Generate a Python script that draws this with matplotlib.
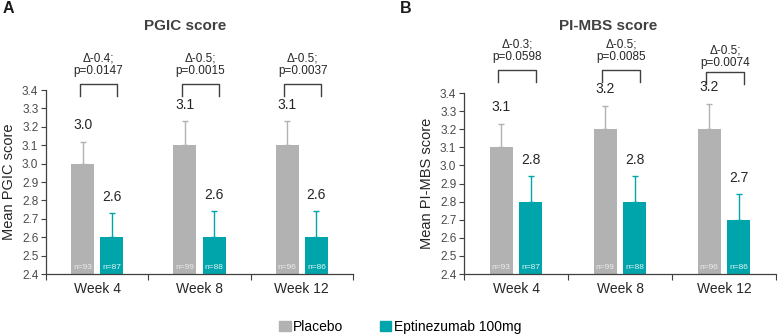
import matplotlib
matplotlib.use('Agg')
import matplotlib.pyplot as plt
from matplotlib.patches import Patch
import numpy as np

plt.rcParams['font.family'] = ['Liberation Sans', 'DejaVu Sans']

weeks = ['Week 4', 'Week 8', 'Week 12']

# panel A - PGIC
pgic_placebo = [3.0, 3.1, 3.1]
pgic_placebo_err = [0.12, 0.13, 0.13]
pgic_epti = [2.6, 2.6, 2.6]
pgic_epti_err = [0.13, 0.14, 0.14]
pgic_n_placebo = ['n=93', 'n=99', 'n=96']
pgic_n_epti = ['n=87', 'n=88', 'n=86']
pgic_stats = ['Δ-0.4;\np=0.0147', 'Δ-0.5;\np=0.0015', 'Δ-0.5;\np=0.0037']

# panel B - PI-MBS
mbs_placebo = [3.1, 3.2, 3.2]
mbs_placebo_err = [0.13, 0.13, 0.14]
mbs_epti = [2.8, 2.8, 2.7]
mbs_epti_err = [0.14, 0.14, 0.14]
mbs_n_placebo = ['n=93', 'n=99', 'n=96']
mbs_n_epti = ['n=87', 'n=88', 'n=86']
mbs_stats = ['Δ-0.3;\np=0.0598', 'Δ-0.5;\np=0.0085', 'Δ-0.5;\np=0.0074']

# bracket heights / text gaps (layout)
pgic_bracket = [3.433, 3.433, 3.433]
pgic_gap = [5, 5, 5]
mbs_bracket = [3.527, 3.527, 3.515]
mbs_gap = [5, 5, 2]

GRAY = '#b2b2b2'
TEAL = '#00a5ac'
DARK = '#404040'

fig = plt.figure(figsize=(7.77, 3.36), dpi=100)
axA = fig.add_axes([0.0592, 0.1845, 0.3951, 0.5476])
axB = fig.add_axes([0.5972, 0.1845, 0.4015, 0.5387])


def draw_panel(ax, ylabel, plac, plac_err, epti, epti_err, n_plac, n_epti, stats, brk, gap):
    x = np.arange(len(weeks))
    off = 0.142
    w = 0.225
    ax.bar(x - off, plac, w, color=GRAY, zorder=2)
    ax.bar(x + off, epti, w, color=TEAL, zorder=2)
    ax.errorbar(x - off, plac, yerr=[np.zeros(3), plac_err], fmt='none',
                ecolor=GRAY, elinewidth=1, capsize=2.5, capthick=1, zorder=1)
    ax.errorbar(x + off, epti, yerr=[np.zeros(3), epti_err], fmt='none',
                ecolor=TEAL, elinewidth=1, capsize=2.5, capthick=1, zorder=1)
    for i in range(len(weeks)):
        ax.annotate('{:.1f}'.format(plac[i]), xy=(x[i] - off, plac[i] + plac_err[i]),
                    xytext=(0, 7), textcoords='offset points', ha='center', va='bottom',
                    fontsize=10, color='#262626', annotation_clip=False)
        ax.annotate('{:.1f}'.format(epti[i]), xy=(x[i] + off, epti[i] + epti_err[i]),
                    xytext=(0, 7), textcoords='offset points', ha='center', va='bottom',
                    fontsize=10, color='#262626', annotation_clip=False)
        ax.annotate(n_plac[i], xy=(x[i] - off, 2.4), xytext=(0, 2), textcoords='offset points',
                    ha='center', va='bottom', fontsize=6, color='#ececec', zorder=3)
        ax.annotate(n_epti[i], xy=(x[i] + off, 2.4), xytext=(0, 2), textcoords='offset points',
                    ha='center', va='bottom', fontsize=6, color='#e0f4f4', zorder=3)
        # bracket
        bl, br = x[i] - 0.17, x[i] + 0.19
        ax.plot([bl, bl, br, br], [brk[i] - 0.065, brk[i], brk[i], brk[i] - 0.065],
                color=DARK, lw=1, clip_on=False)
        ax.annotate(stats[i], xy=((bl + br) / 2, brk[i]), xytext=(0, gap[i]),
                    textcoords='offset points', ha='center', va='bottom',
                    fontsize=8.5, color='#262626', linespacing=1.1, annotation_clip=False)
    ax.set_xlim(-0.5, 2.5)
    ax.set_ylim(2.4, 3.4)
    ticks = np.arange(2.4, 3.41, 0.1)
    ax.set_yticks(ticks)
    ax.set_yticklabels(['{:.1f}'.format(v) for v in ticks])
    ax.set_xticks([-0.5, 0.5, 1.5, 2.5])
    ax.set_xticklabels([])
    ax.set_xticks(x, minor=True)
    ax.set_xticklabels(weeks, minor=True, fontsize=10, color='#262626')
    ax.tick_params(axis='x', which='minor', length=0, pad=6)
    ax.tick_params(axis='x', which='major', length=4, color=DARK, width=0.8)
    ax.tick_params(axis='y', length=3.5, color=DARK, width=0.8, labelsize=8.5,
                   labelcolor='#4a4a4a', pad=2)
    for s in ['top', 'right']:
        ax.spines[s].set_visible(False)
    for s in ['left', 'bottom']:
        ax.spines[s].set_color(DARK)
        ax.spines[s].set_linewidth(0.9)
    ax.set_ylabel(ylabel, fontsize=10.5, color='#262626', labelpad=4)


draw_panel(axA, 'Mean PGIC score', pgic_placebo, pgic_placebo_err, pgic_epti, pgic_epti_err,
           pgic_n_placebo, pgic_n_epti, pgic_stats, pgic_bracket, pgic_gap)
draw_panel(axB, 'Mean PI-MBS score', mbs_placebo, mbs_placebo_err, mbs_epti, mbs_epti_err,
           mbs_n_placebo, mbs_n_epti, mbs_stats, mbs_bracket, mbs_gap)

fig.text(185 / 777, 1 - 26 / 336, 'PGIC score', ha='center', va='center',
         fontsize=11, fontweight='bold', color=DARK)
fig.text(608 / 777, 1 - 26 / 336, 'PI-MBS score', ha='center', va='center',
         fontsize=11, fontweight='bold', color=DARK)
fig.text(3 / 777, 1 - 1 / 336, 'A', ha='left', va='top', fontsize=11.5, fontweight='bold', color='#1a1a1a')
fig.text(400 / 777, 1 - 1 / 336, 'B', ha='left', va='top', fontsize=11.5, fontweight='bold', color='#1a1a1a')

handles = [Patch(color=GRAY, label='Placebo'), Patch(color=TEAL, label='Eptinezumab 100mg')]
fig.legend(handles=handles, loc='center', bbox_to_anchor=(0.515, 0.027), ncol=2,
           frameon=False, fontsize=10, handlelength=0.8, handleheight=0.8,
           handletextpad=0.2, columnspacing=2.6)

fig.savefig('out.png', dpi=100)
